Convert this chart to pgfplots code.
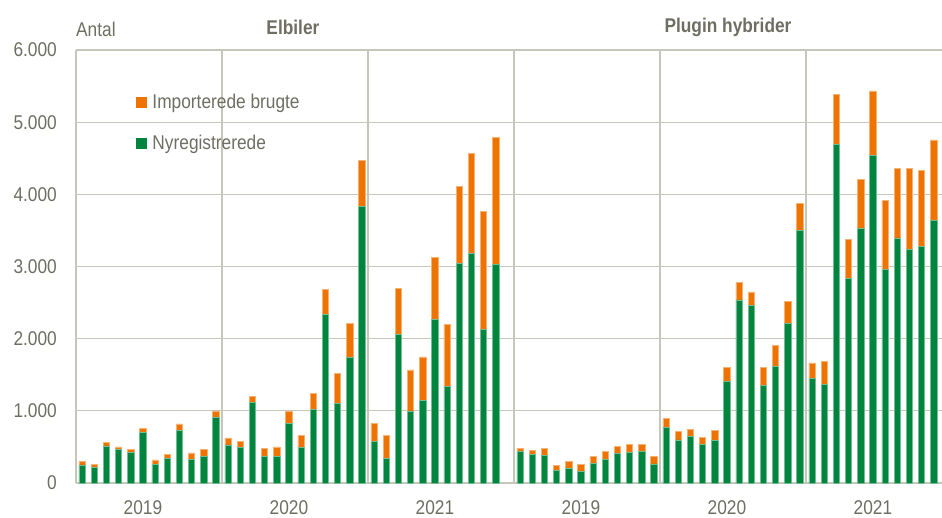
\documentclass[border=0pt]{standalone}
\usepackage{fontspec}
\setmainfont{Liberation Sans}
\usepackage{graphicx}
\usepackage{pgfplots}
\pgfplotsset{compat=1.18}
\usepackage{pgfplotstable}
\usetikzlibrary{calc}
\definecolor{grn}{HTML}{00853E}
\definecolor{org}{HTML}{EF7300}
\definecolor{gridc}{HTML}{C6C6BA}
\definecolor{txt}{HTML}{6E6E62}
\newcommand\f{\fontsize{17.3}{20}\selectfont}
\newcommand\st[1]{\scalebox{1}[1.15]{#1}}

\pgfplotstableread{
x g o
0 250 45
1 212 42
2 513 55
3 462 37
4 420 51
5 702 56
6 263 56
7 337 60
8 725 93
9 323 93
10 374 97
11 905 93
12 529 95
13 490 87
14 1113 92
15 374 111
16 365 134
17 827 161
18 490 171
19 1016 231
20 2337 347
21 1099 425
22 1741 471
23 3838 628
24 573 258
25 342 314
26 2060 633
27 998 568
28 1146 600
29 2268 854
30 1335 863
31 3044 1071
32 3187 1376
33 2129 1631
34 3030 1764
36 434 46
37 397 60
38 388 88
39 175 70
40 199 97
41 166 93
42 277 92
43 328 111
44 411 97
45 420 111
46 434 106
47 266 101
48 771 120
49 596 124
50 642 106
51 531 106
52 587 143
53 1413 194
54 2536 245
55 2457 190
56 1349 254
57 1617 295
58 2217 301
59 3496 379
60 1450 213
61 1362 324
62 4688 702
63 2831 540
64 3524 688
65 4545 887
66 2956 956
67 3395 965
68 3242 1118
69 3275 1053
70 3634 1119
}\data

\begin{document}
\begin{tikzpicture}
\begin{axis}[name=ax, at={(0,0)}, anchor=south west,
  scale only axis, width=866pt, height=433pt,
  xmin=-0.5, xmax=70.68, ymin=0, ymax=6000,
  ybar stacked, bar width=6.4pt,
  axis lines*=left,
  axis line style={draw=gridc, line width=1.2pt},
  ytick={0,1000,...,6000},
  ymajorgrids, grid style={draw=gridc, line width=1.2pt},
  major tick length=0pt,
  xtick={5,17,29,41,53,65},
  xticklabels={\st{2019},\st{2020},\st{2021},\st{2019},\st{2020},\st{2021}},
  extra x ticks={11.5,23.5,35.5,47.5,59.5},
  extra x tick labels={},
  extra x tick style={xmajorgrids=true, grid style={draw=gridc, line width=1.2pt}},
  /pgf/number format/.cd, 1000 sep={.}, assume math mode=true, /pgfplots/.cd,
  yticklabel={\st{\pgfmathprintnumber{\tick}}},
  tick label style={font=\f, text=txt},
  y tick label style={anchor=east, inner sep=0pt, xshift=-19pt},
  x tick label style={anchor=north, inner sep=0pt, yshift=-17pt},
  clip=false,
  legend style={at={(axis cs:4.43,5390)}, anchor=north west, draw=none, fill=none,
    font=\f, text=txt, inner sep=0pt, row sep=25pt,
    nodes={inner sep=0pt, text=txt}},
  legend cell align=left,
  reverse legend,
  legend image code/.code={\fill[#1,draw=none] (0pt,-5.5pt) rectangle (11pt,5.5pt); \path (16pt,0pt);},
]
\addplot[fill=grn, draw=grn!55!white, line width=0.6pt] table[x=x,y=g]{\data};
\addplot[fill=org, draw=org!55!white, line width=0.6pt] table[x=x,y=o]{\data};
\legend{\st{Nyregistrerede}, \st{Importerede brugte}}
\node[anchor=west, font=\f, text=txt, inner sep=0pt] at (axis cs:-0.5,6290) {\st{Antal}};
\node[font=\f\bfseries, text=txt, inner sep=0pt] at (axis cs:17.33,6320) {\st{Elbiler}};
\node[font=\f\bfseries, text=txt, inner sep=0pt] at (axis cs:53.09,6320) {\st{Plugin hybrider}};
\end{axis}
\pgfresetboundingbox
\path[use as bounding box] ($(ax.south west)+(-76pt,-34pt)$) rectangle ($(ax.north east)+(0pt,50pt)$);
\end{tikzpicture}
\end{document}
